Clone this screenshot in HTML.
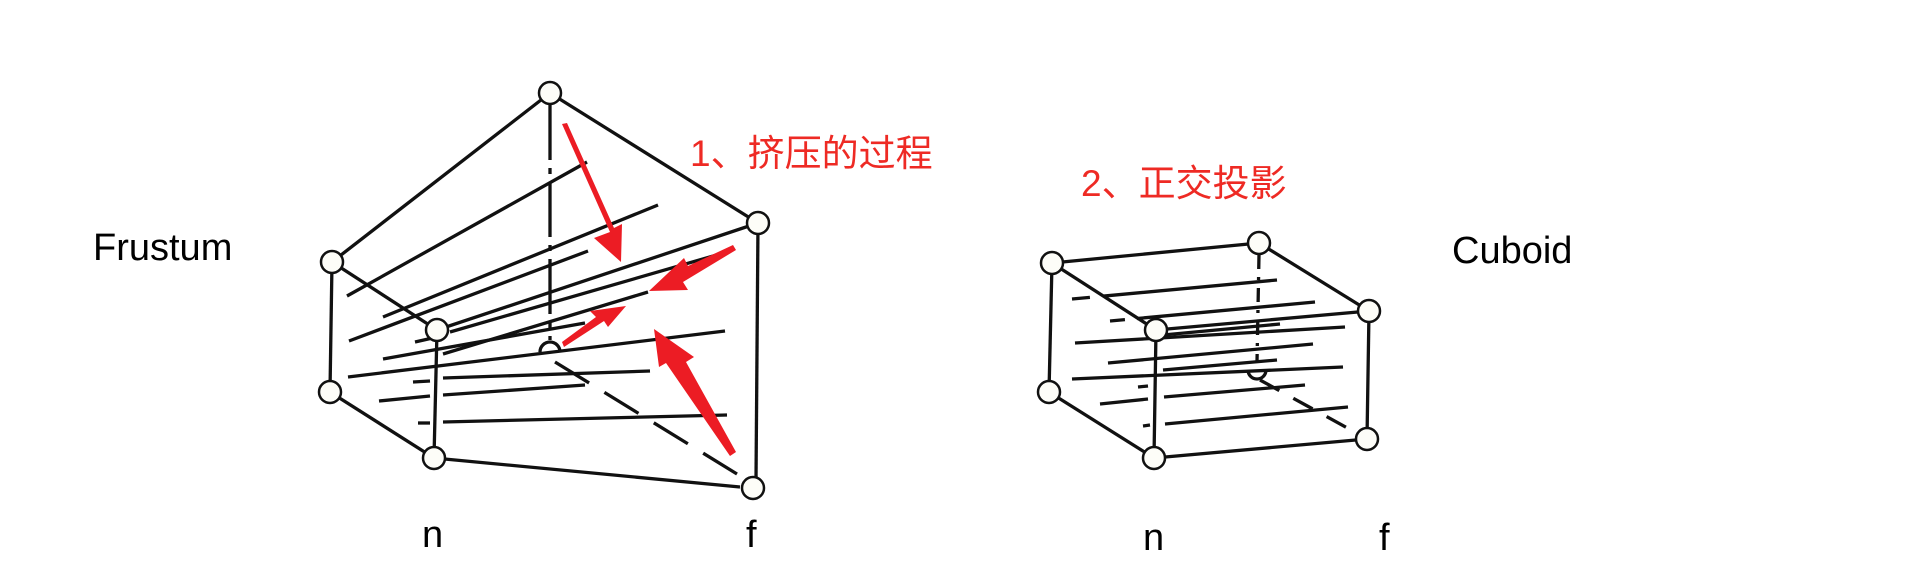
<!DOCTYPE html>
<html><head><meta charset="utf-8"><style>
html,body{margin:0;padding:0;background:#fff;}
svg{display:block;}
.t{font-family:"Liberation Sans",sans-serif;font-size:38px;fill:#000;}
.r{font-family:"Liberation Sans","Noto Sans CJK SC",sans-serif;font-size:37px;fill:#ee2a24;}
</style></head><body>
<svg width="1924" height="582" viewBox="0 0 1924 582" xmlns="http://www.w3.org/2000/svg">
<g stroke="#111" stroke-width="3.3" fill="none" stroke-linecap="butt">
<!-- Frustum edges -->
<line x1="550" y1="93" x2="332" y2="262"/>
<line x1="550" y1="93" x2="758" y2="223"/>
<line x1="332" y1="262" x2="437" y2="330"/>
<line x1="758" y1="223" x2="437" y2="330"/>
<line x1="332" y1="262" x2="330" y2="392"/>
<line x1="437" y1="330" x2="434" y2="458"/>
<line x1="330" y1="392" x2="434" y2="458"/>
<line x1="434" y1="458" x2="740" y2="487"/>
<line x1="758" y1="223" x2="756" y2="480"/>
<line x1="550" y1="105" x2="550" y2="340" stroke-dasharray="55,8,6,8"/>
<line x1="555" y1="362" x2="737" y2="474" stroke-dasharray="40,18"/>
<path d="M540,352 A10,10 0 0 1 560,352" />
<!-- Frustum slices -->
<line x1="347" y1="296" x2="587" y2="162"/>
<line x1="383" y1="317" x2="658" y2="205"/>
<line x1="349" y1="341" x2="588" y2="251"/>
<line x1="450" y1="332" x2="727" y2="252"/>
<line x1="415" y1="342" x2="437" y2="337"/>
<line x1="443" y1="354" x2="648" y2="292"/>
<line x1="383" y1="359" x2="585" y2="323"/>
<line x1="348" y1="377" x2="725" y2="331"/>
<line x1="413" y1="382" x2="430" y2="381"/>
<line x1="443" y1="378" x2="650" y2="371"/>
<line x1="379" y1="401" x2="430" y2="396"/>
<line x1="443" y1="395" x2="585" y2="385"/>
<line x1="418" y1="423" x2="430" y2="423"/>
<line x1="443" y1="422" x2="727" y2="415"/>
<!-- Cuboid edges -->
<line x1="1052" y1="263" x2="1259" y2="243"/>
<line x1="1259" y1="243" x2="1369" y2="311"/>
<line x1="1052" y1="263" x2="1156" y2="330"/>
<line x1="1156" y1="330" x2="1369" y2="311"/>
<line x1="1052" y1="263" x2="1049" y2="392"/>
<line x1="1156" y1="330" x2="1154" y2="458"/>
<line x1="1049" y1="392" x2="1154" y2="458"/>
<line x1="1154" y1="458" x2="1367" y2="439"/>
<line x1="1369" y1="311" x2="1367" y2="439"/>
<line x1="1259" y1="255" x2="1257" y2="362" stroke-dasharray="14,8,3,8"/>
<line x1="1260" y1="380" x2="1362" y2="436" stroke-dasharray="22,16"/>
<path d="M1248,370 A9,9 0 0 0 1266,370"/>
<!-- Cuboid slices -->
<line x1="1072" y1="299" x2="1277" y2="280" stroke-dasharray="18,14,400"/>
<line x1="1110" y1="321" x2="1315" y2="302" stroke-dasharray="15,12,400"/>
<line x1="1163" y1="335" x2="1280" y2="324"/>
<line x1="1075" y1="343" x2="1345" y2="327"/>
<line x1="1108" y1="363" x2="1313" y2="344"/>
<line x1="1163" y1="370" x2="1277" y2="360"/>
<line x1="1072" y1="379" x2="1343" y2="367"/>
<line x1="1138" y1="387" x2="1148" y2="386"/>
<line x1="1100" y1="404" x2="1148" y2="399"/>
<line x1="1164" y1="397" x2="1305" y2="385"/>
<line x1="1143" y1="426" x2="1150" y2="425"/>
<line x1="1165" y1="424" x2="1348" y2="407"/>
</g>
<g stroke="#111" stroke-width="2.5" fill="#fdfdf8">
<circle cx="550" cy="93" r="11"/>
<circle cx="758" cy="223" r="11"/>
<circle cx="332" cy="262" r="11"/>
<circle cx="437" cy="330" r="11"/>
<circle cx="330" cy="392" r="11"/>
<circle cx="434" cy="458" r="11"/>
<circle cx="753" cy="488" r="11"/>
<circle cx="1052" cy="263" r="11"/>
<circle cx="1259" cy="243" r="11"/>
<circle cx="1369" cy="311" r="11"/>
<circle cx="1156" cy="330" r="11"/>
<circle cx="1049" cy="392" r="11"/>
<circle cx="1154" cy="458" r="11"/>
<circle cx="1367" cy="439" r="11"/>
</g>
<!-- Red arrows -->
<g fill="#ec1c24">
<polygon points="562,124 610,232 594,238 621,262 622,224 614,228 567,123"/>
<polygon points="733,245 688,266 684,258 649,291 688,290 683,282 736,250"/>
<polygon points="564,347 604,321 608,327 626,306 590,311 596,317 562,342"/>
<polygon points="736,452 686,362 694,357 654,329 659,367 666,363 730,456"/>
</g>
<text class="t" x="93" y="260">Frustum</text>
<text class="t" x="1452" y="263">Cuboid</text>
<text class="t" x="422" y="547">n</text>
<text class="t" x="746" y="547">f</text>
<text class="t" x="1143" y="550">n</text>
<text class="t" x="1379" y="550">f</text>
<text class="r" x="690" y="166">1、挤压的过程</text>
<text class="r" x="1081" y="196">2、正交投影</text>
</svg>
</body></html>
